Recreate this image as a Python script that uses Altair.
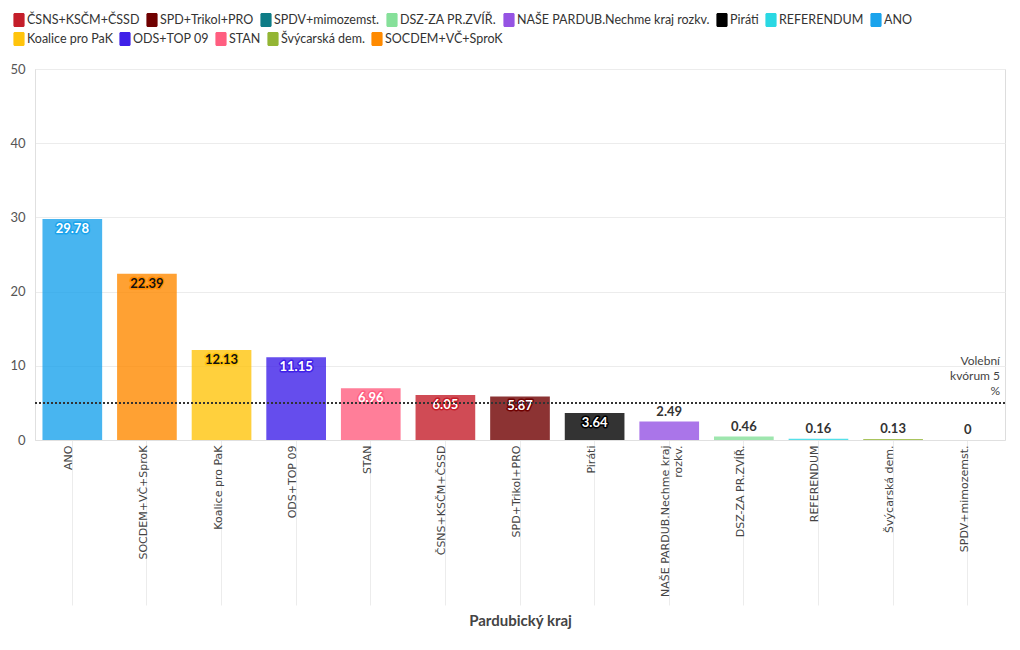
import altair as alt
import pandas as pd

# ---- data ----
parties = ["ANO", "SOCDEM+VČ+SproK", "Koalice pro PaK", "ODS+TOP 09", "STAN",
           "ČSNS+KSČM+ČSSD", "SPD+Trikol+PRO", "Piráti",
           "NAŠE PARDUB.Nechme kraj rozkv.", "DSZ-ZA PR.ZVÍŘ.", "REFERENDUM",
           "Švýcarská dem.", "SPDV+mimozemst."]
values = [29.78, 22.39, 12.13, 11.15, 6.96, 6.05, 5.87, 3.64, 2.49, 0.46, 0.16, 0.13, 0]

legend_order = ["ČSNS+KSČM+ČSSD", "SPD+Trikol+PRO", "SPDV+mimozemst.", "DSZ-ZA PR.ZVÍŘ.",
                "NAŠE PARDUB.Nechme kraj rozkv.", "Piráti", "REFERENDUM", "ANO",
                "Koalice pro PaK", "ODS+TOP 09", "STAN", "Švýcarská dem.", "SOCDEM+VČ+SproK"]
legend_colors = ["#c41e2a", "#6f0000", "#0e7c86", "#86e09a",
                 "#9553e3", "#000000", "#2ad8e3", "#1aa3ec",
                 "#ffc40c", "#3f20e8", "#ff5e80", "#93b534", "#ff8a00"]
legend_row1 = legend_order[:8]
legend_row2 = legend_order[8:]
legend_row2_colors = legend_colors[8:]

threshold = [5]
threshold_label = ["Volební\nkvórum 5\n%"]
axis_title = "Pardubický kraj"

dark_label_parties = ["SOCDEM+VČ+SproK", "Koalice pro PaK"]

df = pd.DataFrame({"party": parties, "value": values})
FONT = "Lato"

W, H = 970, 371

color_scale = alt.Scale(domain=legend_order, range=legend_colors)
row2_scale = alt.Scale(domain=legend_row2, range=legend_row2_colors)

SYMBOL = ("M-0.58,-1H0.58A0.22,0.22 0 0 1 0.8,-0.78V0.78A0.22,0.22 0 0 1 0.58,1"
          "H-0.58A0.22,0.22 0 0 1 -0.8,0.78V-0.78A0.22,0.22 0 0 1 -0.58,-1Z")


def make_legend(ly, vals=None):
    kw = dict(
        title=None, orient="none", legendX=-23, legendY=ly, direction="horizontal",
        symbolType=SYMBOL, symbolSize=196, symbolOpacity=1,
        symbolStrokeWidth=0, labelFont=FONT, labelFontSize=12.5,
        labelColor="#333", labelLimit=0, columnPadding=5, labelOffset=1,
    )
    if vals is not None:
        kw["values"] = vals
    return alt.Legend(**kw)


x_enc = alt.X(
    "party:N", sort=parties, title=axis_title,
    scale=alt.Scale(paddingInner=0.2, paddingOuter=0.1),
    axis=alt.Axis(
        labelAngle=-90, labelBaseline="alphabetic", labelFont="DejaVu Sans",
        labelFontSize=11, labelColor="#444", labelLimit=0,
        labelExpr="datum.label == 'NAŠE PARDUB.Nechme kraj rozkv.' ? ['NAŠE PARDUB.Nechme kraj', 'rozkv.'] : datum.label",
        tickSize=165, tickColor="#ececec", tickWidth=1, labelPadding=-160,
        domainColor="#e0e0e0", titleFont=FONT, titleFontSize=15,
        titleFontWeight="bold", titleColor="#444", titlePadding=8,
    ),
)
y_enc = alt.Y(
    "value:Q", title=None, scale=alt.Scale(domain=[0, 50]),
    axis=alt.Axis(values=[0, 10, 20, 30, 40, 50], grid=True, gridColor="#ececec",
                  ticks=False, labelPadding=10, labelFont=FONT, labelFontSize=13,
                  labelColor="#555", domainColor="#e0e0e0"),
)

base = alt.Chart(df)

bars = base.mark_bar(opacity=0.8).encode(
    x=x_enc, y=y_enc,
    color=alt.Color("party:N", scale=color_scale, legend=make_legend(-56, legend_row1)),
)
legend2_layer = base.transform_filter(
    alt.FieldOneOfPredicate(field="party", oneOf=legend_row2)
).transform_calculate(party2="datum.party").mark_bar(opacity=0).encode(
    x=alt.X("party:N", sort=parties), y="value:Q",
    fill=alt.Fill("party2:N", scale=row2_scale, legend=make_legend(-37)),
)

inside = base.transform_filter("datum.value >= 3")
outline = inside.mark_text(
    font=FONT, fontSize=13, fontWeight="bold", baseline="middle", dy=10,
    strokeWidth=3, strokeJoin="round", fillOpacity=0,
).encode(
    x=alt.X("party:N", sort=parties), y="value:Q", text=alt.Text("value:Q"),
    stroke=alt.Stroke("party:N", scale=color_scale, legend=None),
)
inside_text = inside.mark_text(
    font=FONT, fontSize=13, fontWeight="bold", baseline="middle", dy=10,
).encode(
    x=alt.X("party:N", sort=parties), y="value:Q", text=alt.Text("value:Q"),
    color=alt.condition(
        alt.FieldOneOfPredicate(field="party", oneOf=dark_label_parties),
        alt.value("#111"), alt.value("white")),
)
above_text = base.transform_filter("datum.value < 3").mark_text(
    font=FONT, fontSize=13, fontWeight="bold", baseline="middle", dy=-10,
    color="#333",
).encode(x=alt.X("party:N", sort=parties), y="value:Q", text=alt.Text("value:Q"))

rule_df = pd.DataFrame({"value": threshold, "label": threshold_label})
rule = alt.Chart(rule_df).mark_rule(
    strokeDash=[2, 2], strokeWidth=2, color="#333"
).encode(y="value:Q")
rule_text = alt.Chart(rule_df).mark_text(
    font=FONT, fontSize=12, color="#444", align="right", baseline="bottom",
    lineBreak="\n", lineHeight=15, dy=-35,
).encode(y="value:Q", x=alt.value(W - 5), text="label:N")

chart = alt.layer(bars, legend2_layer, outline, inside_text, above_text, rule, rule_text).properties(
    width=W, height=H,
    autosize=alt.AutoSizeParams(type="none"),
    padding={"left": 27, "top": 61, "right": 7, "bottom": 200},
).configure_view(stroke=None).configure(background="white")

chart.save("out.html", embed_options={"renderer": "svg", "actions": False})
